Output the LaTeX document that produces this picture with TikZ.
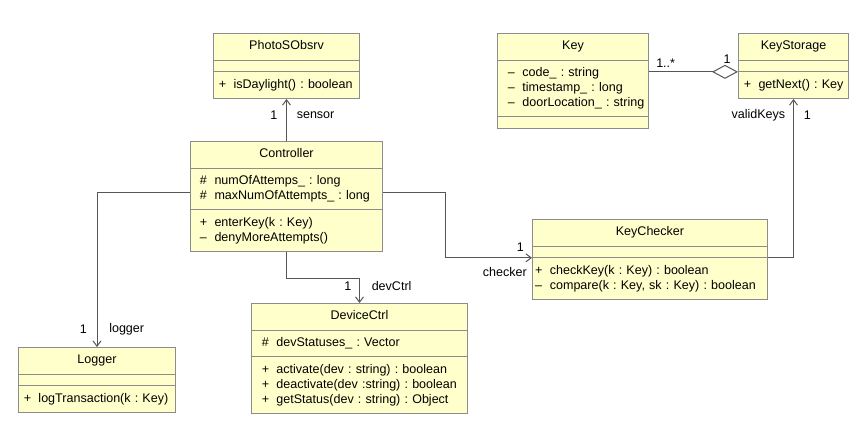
\documentclass[tikz,border=0pt]{standalone}
\usepackage{fontspec}
\setmainfont{Liberation Sans}
\usetikzlibrary{shapes.multipart,arrows.meta,calc}
\definecolor{classfill}{HTML}{FFFFCC}
\definecolor{classline}{HTML}{8C8C8C}
\definecolor{assocline}{HTML}{555555}
\newcommand{\vpub}[1]{\strut\makebox[11pt][l]{+}\mbox{#1}}
\newcommand{\vpriv}[1]{\strut\makebox[11pt][l]{–}\mbox{#1}}
\newcommand{\vprot}[1]{\strut\makebox[11pt][l]{\#}\mbox{#1}}
\newcommand{\ctitle}[1]{\strut\makebox[\hsize][c]{#1}}
\tikzset{
    umlclass/.style 2 args={rectangle split, rectangle split parts=3, draw=classline, fill=classfill,
        line width=0.75pt, anchor=north west, align=left, text width=#1,
        inner xsep=#2, inner ysep=4pt,
        rectangle split empty part height=0pt, rectangle split empty part depth=0pt,
        font=\fontsize{9.4pt}{11.25pt}\selectfont\frenchspacing},
    assoc/.style={draw=assocline, line width=0.75pt, -{Straight Barb[length=4pt,width=6pt]}},
    aggr/.style={draw=assocline, line width=0.75pt, {Diamond[open,length=19.5pt,width=10.5pt]}-},
    role/.style={inner sep=0pt, font=\fontsize{9.4pt}{11.25pt}\selectfont}
}
\begin{document}
\begin{tikzpicture}[x=0.75pt,y=-0.75pt]
    \useasboundingbox (0,0) rectangle (866,422);

    % classes
    \node[umlclass={101.5pt}{4pt}] (photo) at (213,33) {\ctitle{PhotoSObsrv}
        \nodepart{two}
        \nodepart{three} \vpub{isDaylight() : boolean}};
    \node[umlclass={130pt}{7pt}] (ctrl) at (190,141) {\ctitle{Controller}
        \nodepart{two} \vprot{numOfAttemps\_ : long}\\ \vprot{maxNumOfAttempts\_ : long}
        \nodepart{three} \vpub{enterKey(k : Key)}\\ \vpriv{denyMoreAttempts()}};
    \node[umlclass={97.85pt}{7.7pt}] (key) at (497,33) {\ctitle{Key}
        \nodepart{two} \vpriv{code\_ : string}\\ \vpriv{timestamp\_ : long}\\ \vpriv{doorLocation\_ : string}
        \nodepart{three}};
    \node[umlclass={74.5pt}{4pt}] (ks) at (738,33) {\ctitle{KeyStorage}
        \nodepart{two}
        \nodepart{three} \vpub{getNext() : Key}};
    \node[umlclass={172.25pt}{2pt}] (kc) at (532,219) {\ctitle{KeyChecker}
        \nodepart{two}
        \nodepart{three} \vpub{checkKey(k : Key) : boolean}\\ \vpriv{compare(k : Key, sk : Key) : boolean}};
    \node[umlclass={109.75pt}{4pt}] (logger) at (18,347) {\ctitle{Logger}
        \nodepart{two}
        \nodepart{three} \vpub{logTransaction(k : Key)}};
    \node[umlclass={146.6pt}{7.7pt}] (dev) at (251,303) {\ctitle{DeviceCtrl}
        \nodepart{two} \vprot{devStatuses\_ : Vector}
        \nodepart{three} \vpub{activate(dev : string) : boolean}\\ \vpub{deactivate(dev :string) : boolean}\\ \vpub{getStatus(dev : string) : Object}};

    % associations
    \draw[assoc] (ctrl.north) -- (photo.south);
    \path (photo.south) ++(-9,16) node[role, anchor=east] (sensor-m) {1}
        ++(19,0) node[role, anchor=west] (sensor-r) {sensor};

    \draw[assoc] ([yshift=3pt]ctrl.east) -- ++(62,0) |- (kc.two split west);
    \path (kc.two split west) ++(-8,-11) node[role, anchor=east] (checker-m) {1}
        ++(3,25) node[role, anchor=east] (checker-r) {checker};

    \draw[assoc] (kc.two split east) -| (ks.south);
    \path (ks.south) ++(-8,16) node[role, anchor=east] (valid-r) {validKeys}
        ++(18,0) node[role, anchor=west] (valid-m) {1};

    \draw[assoc] ([yshift=3pt]ctrl.west) -| (logger.north);
    \path (logger.north) ++(-10,-18) node[role, anchor=east] (logger-m) {1}
        ++(22,0) node[role, anchor=west] (logger-r) {logger};

    \draw[assoc] (ctrl.south) -- ++(0,26) -| (dev.north);
    \path (dev.north) ++(-8,-17) node[role, anchor=east] (dev-m) {1}
        ++(20,0) node[role, anchor=west] (dev-r) {devCtrl};

    % aggregation
    \draw[aggr] (ks.two split west) -- (key.east |- ks.two split west);
    \path (key.east |- ks.two split west) ++(7,-9) node[role, anchor=west] (agg-m) {1..*};
    \path (ks.two split west) ++(-11,-13) node[role] (agg-o) {1};
\end{tikzpicture}
\end{document}
